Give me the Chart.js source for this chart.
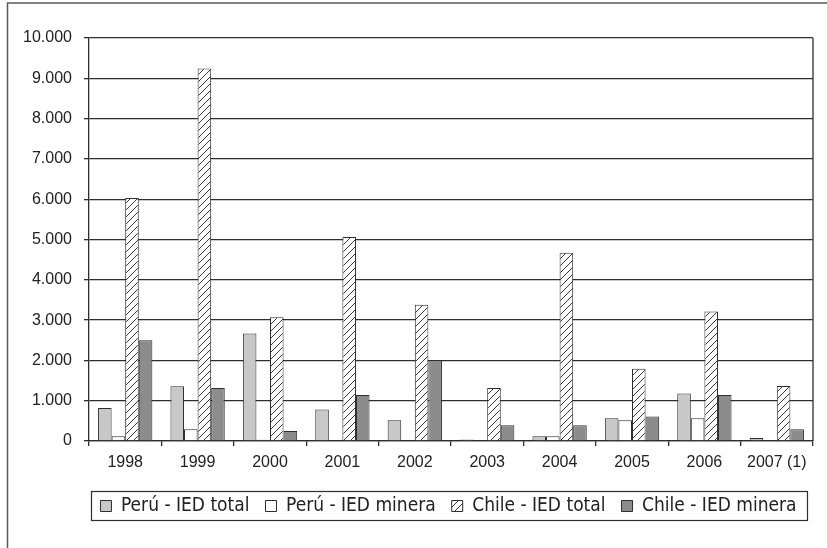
<!DOCTYPE html>
<html>
<head>
<meta charset="utf-8">
<script src="https://cdn.jsdelivr.net/npm/chart.js@4/dist/chart.umd.min.js"></script>
<style>
  html, body { margin: 0; padding: 0; background: #fff; }
  #wrap { width: 827px; height: 548px; position: relative; }
</style>
</head>
<body>
<div id="wrap"><canvas id="c" width="827" height="548"></canvas></div>
<script>
// Inversión extranjera directa (millones US$), Perú y Chile
const years = ['1998', '1999', '2000', '2001', '2002', '2003', '2004', '2005', '2006', '2007 (1)'];
const peruTotal   = [820, 1360, 2670, 780, 515, 40, 115, 565, 1180, 75];
const peruMinera  = [120, 290, 30, null, null, null, 115, 515, 565, null];
const chileTotal  = [6030, 9245, 3070, 5060, 3380, 1315, 4670, 1795, 3215, 1365];
const chileMinera = [2500, 1315, 250, 1140, 2010, 390, 390, 605, 1140, 290];
const seriesNames = ['Perú - IED total', 'Perú - IED minera', 'Chile - IED total', 'Chile - IED minera'];
const yTicks = [0, 1000, 2000, 3000, 4000, 5000, 6000, 7000, 8000, 9000, 10000];

const INK = '#2e2e2e';

// diagonal hatch fill
function hatchPattern() {
  const s = 7;
  const c = document.createElement('canvas');
  c.width = s; c.height = s;
  const g = c.getContext('2d');
  g.fillStyle = '#ffffff';
  g.fillRect(0, 0, s, s);
  g.strokeStyle = '#3a3a3a';
  g.lineWidth = 1;
  g.beginPath();
  g.moveTo(0, s); g.lineTo(s, 0);
  g.moveTo(-1, 1); g.lineTo(1, -1);
  g.moveTo(s - 1, s + 1); g.lineTo(s + 1, s - 1);
  g.stroke();
  return g.createPattern(c, 'repeat');
}

function fmtThousands(v) {
  return String(v).replace(/\B(?=(\d{3})+(?!\d))/g, '.');
}

// frame, plot right edge, legend box; legend re-centred under the plot
const decor = {
  id: 'decor',
  afterLayout(chart) {
    const lg = chart.legend;
    if (lg) {
      lg.left = 84;
      lg.right = chart.chartArea.right;
      lg.width = lg.right - lg.left;
    }
  },
  afterDraw(chart) {
    const ctx = chart.ctx;
    const a = chart.chartArea;
    ctx.save();
    // outer frame (top and left)
    ctx.strokeStyle = '#5a5a5a';
    ctx.lineWidth = 1.5;
    ctx.beginPath();
    ctx.moveTo(7.5, 548);
    ctx.lineTo(7.5, 3);
    ctx.lineTo(827, 3);
    ctx.stroke();
    // right edge of the plot area
    ctx.strokeStyle = INK;
    ctx.lineWidth = 1.3;
    ctx.beginPath();
    ctx.moveTo(a.right, a.top);
    ctx.lineTo(a.right, a.bottom);
    ctx.stroke();
    // legend border
    const hb = chart.legend && chart.legend.legendHitBoxes;
    if (hb && hb.length) {
      let l = Infinity, r = -Infinity, t = Infinity, b = -Infinity;
      hb.forEach(h => {
        l = Math.min(l, h.left); r = Math.max(r, h.left + h.width);
        t = Math.min(t, h.top); b = Math.max(b, h.top + h.height);
      });
      ctx.strokeStyle = INK;
      ctx.lineWidth = 1.2;
      ctx.strokeRect(Math.round(l - 9) + 0.5, Math.round(t - 5.5) + 0.5,
                     Math.round(r - l + 20), Math.round(b - t + 10));
    }
    ctx.restore();
  }
};

const ctx = document.getElementById('c').getContext('2d');
const common = { borderColor: INK, borderWidth: 1, categoryPercentage: 0.75, barPercentage: 1 };

new Chart(ctx, {
  type: 'bar',
  data: {
    labels: years,
    datasets: [
      Object.assign({ label: seriesNames[0], data: peruTotal,   backgroundColor: '#c8c8c8' }, common),
      Object.assign({ label: seriesNames[1], data: peruMinera,  backgroundColor: '#ffffff' }, common),
      Object.assign({ label: seriesNames[2], data: chileTotal,  backgroundColor: hatchPattern() }, common),
      Object.assign({ label: seriesNames[3], data: chileMinera, backgroundColor: '#8c8c8c' }, common)
    ]
  },
  options: {
    responsive: false,
    animation: false,
    devicePixelRatio: 1,
    layout: { padding: { top: 38, right: 14, bottom: 22.5, left: 0 } },
    plugins: {
      legend: {
        position: 'bottom',
        labels: {
          boxWidth: 11,
          boxHeight: 11,
          padding: 16,
          color: '#222',
          font: { family: '"DejaVu Sans Condensed", "Liberation Sans Narrow", sans-serif', size: 19 }
        }
      },
      tooltip: { enabled: false }
    },
    scales: {
      x: {
        offset: true,
        grid: { display: true, drawOnChartArea: false, drawTicks: true, tickLength: 5, color: INK, lineWidth: 1.3 },
        border: { display: true, color: INK, width: 1.3 },
        ticks: { color: '#222', padding: 7, maxRotation: 0, autoSkip: false,
                 font: { family: '"Liberation Sans", Arial, sans-serif', size: 16 } },
        afterFit(scale) { scale.height = 39.5; }
      },
      y: {
        min: 0,
        max: 10000,
        afterBuildTicks(scale) { scale.ticks = yTicks.map(v => ({ value: v })); },
        grid: { color: INK, lineWidth: 1.3, tickLength: 5, drawTicks: true },
        border: { display: true, color: INK, width: 1.3 },
        ticks: { color: '#222', padding: 12,
                 font: { family: '"Liberation Sans", Arial, sans-serif', size: 16 },
                 callback: v => fmtThousands(v) },
        afterFit(scale) { scale.width = 89; }
      }
    }
  },
  plugins: [decor]
});
</script>
</body>
</html>
